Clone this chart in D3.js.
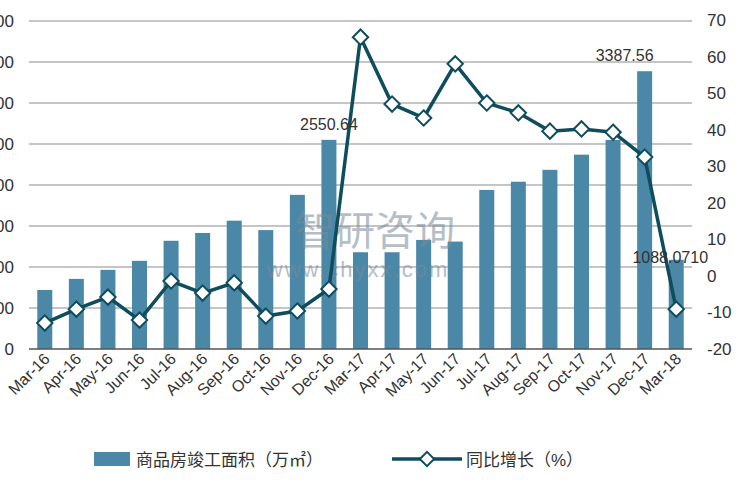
<!DOCTYPE html>
<html><head><meta charset="utf-8">
<script src="https://cdn.jsdelivr.net/npm/d3@7"></script>
<style>body{margin:0;background:#fff}text{font-family:"Liberation Sans","Noto Sans CJK SC",sans-serif}</style>
</head><body><div id="chart"></div>
<script>
const months = ['Mar-16','Apr-16','May-16','Jun-16','Jul-16','Aug-16','Sep-16','Oct-16','Nov-16','Dec-16',
  'Mar-17','Apr-17','May-17','Jun-17','Jul-17','Aug-17','Sep-17','Oct-17','Nov-17','Dec-17','Mar-18'];
const area = [720,855,965,1075,1320,1415,1565,1450,1880,2550.64,
  1180,1180,1330,1310,1940,2040,2185,2370,2550,3387.56,1088.07];
const growth = [-12.9,-9.1,-5.8,-12.1,-1.4,-4.7,-1.9,-11,-9.6,-3.6,
  65.3,47,43.2,58,47.3,44.6,39.6,40.2,39.3,32.5,-9.1];
const leftTicks = [0,500,1000,1500,2000,2500,3000,3500,4000];
const rightTicks = [-20,-10,0,10,20,30,40,50,60,70];
const labelled = {9:'2550.64',19:'3387.56',20:'1088.0710'};

const W = 750, H = 500;
const svg = d3.select('#chart').append('svg').attr('width', W).attr('height', H);
const x = d3.scaleBand().domain(months).range([29, 692]);
const yL = d3.scaleLinear().domain([0, 4000]).range([349, 21]);
const yR = d3.scaleLinear().domain([-20, 70]).range([349, 20]);

// grid
svg.append('g').selectAll('line').data(leftTicks.slice(1)).enter().append('line')
  .attr('x1', 29).attr('x2', 692).attr('y1', d => yL(d)).attr('y2', d => yL(d))
  .attr('stroke', '#8c8c8c').attr('stroke-width', 1.2);

// left axis labels (cut off at the edge, as in the source)
svg.append('g').selectAll('text').data(leftTicks).enter().append('text')
  .attr('x', 14).attr('y', d => yL(d) + 6).attr('text-anchor', 'end')
  .attr('font-size', 17).attr('fill', '#333').text(d => d);

// right axis labels
svg.append('g').selectAll('text').data(rightTicks).enter().append('text')
  .attr('x', 707).attr('y', d => yR(d) + 6)
  .attr('font-size', 17).attr('fill', '#333').text(d => d);

// bars
const bw = 15;
svg.append('g').selectAll('rect').data(area).enter().append('rect')
  .attr('x', (d, i) => x(months[i]) + x.bandwidth() / 2 - bw / 2)
  .attr('y', d => yL(d)).attr('width', bw).attr('height', d => yL(0) - yL(d))
  .attr('fill', '#4b88a8');

// baseline
svg.append('line').attr('x1', 29).attr('x2', 692).attr('y1', 349).attr('y2', 349)
  .attr('stroke', '#555').attr('stroke-width', 1.5);

// watermark
svg.append('text').attr('x', 375).attr('y', 245).attr('text-anchor', 'middle')
  .attr('font-family', 'Noto Sans CJK SC')
  .attr('font-size', 40).attr('fill', '#7a8a99').attr('opacity', 0.55).text('智研咨询');
svg.append('text').attr('x', 358).attr('y', 277).attr('text-anchor', 'middle')
  .attr('font-size', 22).attr('fill', '#7a8a99').attr('opacity', 0.55).attr('letter-spacing', 2).text('www.chyxx.com');

// line
const cx = (d, i) => x(months[i]) + x.bandwidth() / 2;
svg.append('path').datum(growth)
  .attr('d', d3.line().x(cx).y(d => yR(d)))
  .attr('fill', 'none').attr('stroke', '#0f4d5c').attr('stroke-width', 3.5);
svg.append('g').selectAll('path').data(growth).enter().append('path')
  .attr('d', d3.symbol(d3.symbolDiamond2, 150)())
  .attr('transform', (d, i) => 'translate(' + cx(d, i) + ',' + yR(d) + ')')
  .attr('fill', '#fff').attr('stroke', '#0f4d5c').attr('stroke-width', 2);

// value labels
svg.append('g').selectAll('text').data(Object.keys(labelled)).enter().append('text')
  .attr('x', i => cx(null, +i) + (i == 20 ? -6 : i == 19 ? -20 : 0))
  .attr('y', i => yL(area[+i]) - (i == 20 ? -3 : 10))
  .attr('text-anchor', 'middle').attr('font-size', 16).attr('fill', '#333')
  .text(i => labelled[i]);

// x labels
svg.append('g').selectAll('text').data(months).enter().append('text')
  .attr('transform', d => 'translate(' + (x(d) + x.bandwidth() / 2 + 6) + ',360) rotate(-45)')
  .attr('text-anchor', 'end').attr('font-size', 16).attr('fill', '#333').text(d => d);

// legend
svg.append('rect').attr('x', 94).attr('y', 452).attr('width', 36).attr('height', 14).attr('fill', '#4b88a8');
svg.append('text').attr('x', 136).attr('y', 466).attr('font-size', 17).attr('fill', '#333')
  .attr('font-family', 'Noto Sans CJK SC').text('商品房竣工面积（万㎡）');
svg.append('line').attr('x1', 392).attr('x2', 462).attr('y1', 459).attr('y2', 459)
  .attr('stroke', '#0f4d5c').attr('stroke-width', 3.5);
svg.append('path').attr('d', d3.symbol(d3.symbolDiamond2, 130)())
  .attr('transform', 'translate(427,459)').attr('fill', '#fff').attr('stroke', '#0f4d5c').attr('stroke-width', 2);
svg.append('text').attr('x', 466).attr('y', 466).attr('font-size', 17).attr('fill', '#333')
  .attr('font-family', 'Noto Sans CJK SC').text('同比增长（%）');
</script></body></html>
